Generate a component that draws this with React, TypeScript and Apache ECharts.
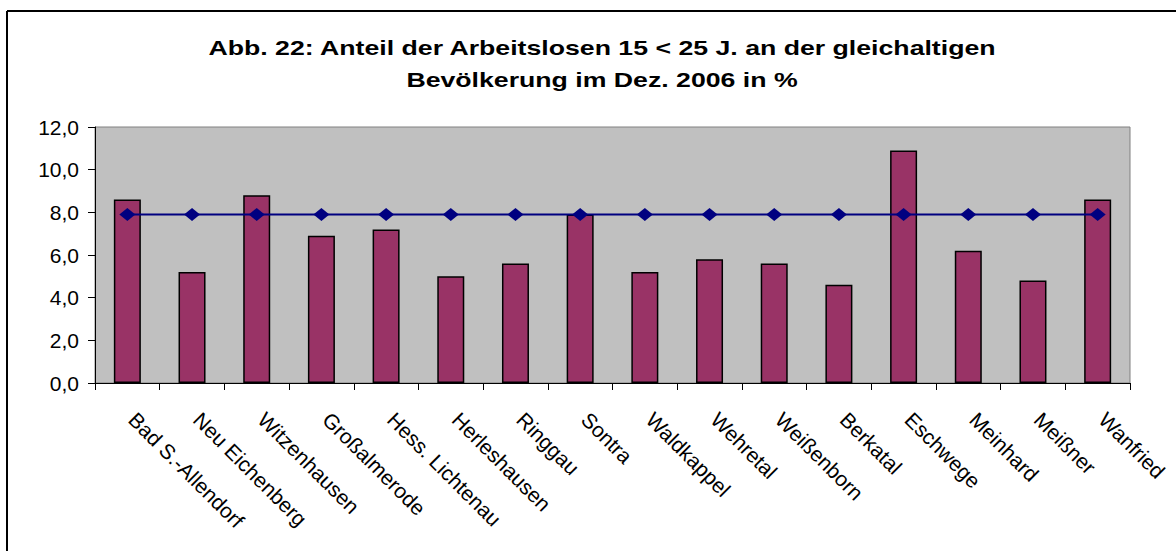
import React, { useEffect, useRef } from "react";
import * as echarts from "echarts";

const categories = [
  "Bad S.-Allendorf",
  "Neu Eichenberg",
  "Witzenhausen",
  "Großalmerode",
  "Hess. Lichtenau",
  "Herleshausen",
  "Ringgau",
  "Sontra",
  "Waldkappel",
  "Wehretal",
  "Weißenborn",
  "Berkatal",
  "Eschwege",
  "Meinhard",
  "Meißner",
  "Wanfried",
];

const shareValues = [8.6, 5.2, 8.8, 6.9, 7.2, 5.0, 5.6, 7.9, 5.2, 5.8, 5.6, 4.6, 10.9, 6.2, 4.8, 8.6];
const averageValues = [7.9, 7.9, 7.9, 7.9, 7.9, 7.9, 7.9, 7.9, 7.9, 7.9, 7.9, 7.9, 7.9, 7.9, 7.9, 7.9];

const titleLines = [
  "Abb. 22: Anteil der Arbeitslosen 15 < 25 J. an der gleichaltigen",
  "Bevölkerung im Dez. 2006 in %",
];

export default function App() {
  const ref = useRef<HTMLDivElement>(null);

  useEffect(() => {
    if (!ref.current) return;
    const chart = echarts.init(ref.current, null, { renderer: "svg" });
    const font = "Arial, 'Liberation Sans', sans-serif";
    chart.setOption({
      animation: false,
      backgroundColor: "#ffffff",
      graphic: [
        {
          type: "line",
          shape: { x1: 7, y1: 11, x2: 1176, y2: 11 },
          style: { stroke: "#000", lineWidth: 2 },
        },
        {
          type: "line",
          shape: { x1: 7, y1: 11, x2: 7, y2: 551 },
          style: { stroke: "#000", lineWidth: 2 },
        },
        ...titleLines.map((t, i) => ({
          type: "text",
          x: 602,
          y: 48 + i * 32,
          scaleX: 1.27,
          style: {
            text: t,
            fontFamily: font,
            fontWeight: "bold",
            fontSize: 21,
            fill: "#000",
            textAlign: "center",
            textVerticalAlign: "middle",
          },
        })),
      ],
      grid: {
        left: 95,
        right: 46,
        top: 127,
        bottom: 168,
        show: true,
        backgroundColor: "#c0c0c0",
        borderColor: "#808080",
        borderWidth: 1,
      },
      xAxis: {
        type: "category",
        data: categories,
        boundaryGap: true,
        axisLine: { show: true, lineStyle: { color: "#000", width: 1 } },
        axisTick: { show: true, alignWithLabel: false, length: 7, lineStyle: { color: "#000" } },
        axisLabel: {
          interval: 0,
          rotate: -45,
          margin: 28,
          padding: [0, 0, 0, 7],
          fontFamily: font,
          fontSize: 21,
          color: "#000",
        },
        splitLine: { show: false },
      },
      yAxis: {
        type: "value",
        min: 0,
        max: 12,
        interval: 2,
        axisLine: { show: true, lineStyle: { color: "#000", width: 1 } },
        axisTick: { show: true, length: 7, lineStyle: { color: "#000" } },
        axisLabel: {
          fontFamily: font,
          fontSize: 21,
          color: "#000",
          margin: 16,
          formatter: (v: number) => v.toFixed(1).replace(".", ","),
        },
        splitLine: { show: false },
      },
      series: [
        {
          type: "bar",
          data: shareValues,
          barWidth: 27,
          itemStyle: { color: "#993366", borderColor: "#000", borderWidth: 1.5 },
          z: 2,
        },
        {
          type: "line",
          data: averageValues,
          symbol: "diamond",
          symbolSize: [16, 13],
          lineStyle: { color: "#000080", width: 2 },
          itemStyle: { color: "#000080" },
          z: 3,
        },
      ],
    });
    return () => chart.dispose();
  }, []);

  return (
    <div
      ref={ref}
      style={{ position: "fixed", left: 0, top: 0, width: 1176, height: 551 }}
    />
  );
}
